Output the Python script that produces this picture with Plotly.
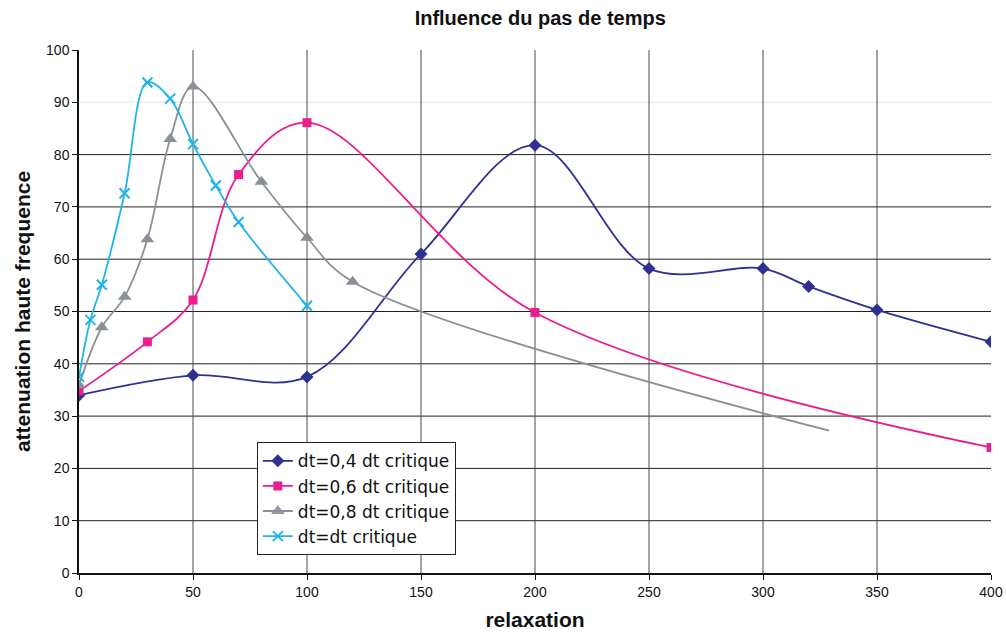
import plotly.graph_objects as go

# Series data: relaxation vs high-frequency attenuation
x_04 = [0, 50, 100, 150, 200, 250, 300, 320, 350, 400]
y_04 = [34.0, 37.8, 37.5, 61.0, 81.8, 58.2, 58.2, 54.8, 50.3, 44.2]

x_06 = [0, 30, 50, 70, 100, 200, 400]
y_06 = [34.8, 44.2, 52.2, 76.2, 86.1, 49.8, 24.0]

x_08 = [0, 10, 20, 30, 40, 50, 80, 100, 120, 329]
y_08 = [35.9, 47.0, 52.8, 63.8, 83.0, 93.0, 74.8, 64.1, 55.7, 27.2]
opacity_08 = [1, 1, 1, 1, 1, 1, 1, 1, 1, 0]  # last point carries no marker

x_10 = [0, 5, 10, 20, 30, 40, 50, 60, 70, 100]
y_10 = [37.5, 48.4, 55.1, 72.6, 93.8, 90.7, 82.0, 74.1, 67.1, 51.1]

names = ["dt=0,4 dt critique", "dt=0,6 dt critique", "dt=0,8 dt critique", "dt=dt critique"]

x_ticks = list(range(0, 401, 50))
y_ticks = list(range(0, 101, 10))

FONT = "Liberation Sans, Arial, sans-serif"
SMOOTH = 1.0

fig = go.Figure()

fig.add_trace(go.Scatter(
    x=x_04, y=y_04, name=names[0], mode="lines+markers",
    line=dict(color="#2e3192", width=1.8, shape="spline", smoothing=SMOOTH),
    marker=dict(symbol="diamond", size=10, color="#2e3192"),
))
fig.add_trace(go.Scatter(
    x=x_06, y=y_06, name=names[1], mode="lines+markers",
    line=dict(color="#ec1c8c", width=1.8, shape="spline", smoothing=SMOOTH),
    marker=dict(symbol="square", size=9, color="#ec1c8c"),
))
fig.add_trace(go.Scatter(
    x=x_08, y=y_08, name=names[2], mode="lines+markers",
    line=dict(color="#8a9098", width=1.8, shape="spline", smoothing=SMOOTH),
    marker=dict(symbol="triangle-up", size=12, color="#8a9098", opacity=opacity_08),
))
fig.add_trace(go.Scatter(
    x=x_10, y=y_10, name=names[3], mode="lines+markers",
    line=dict(color="#1eb4e8", width=1.8, shape="spline", smoothing=SMOOTH),
    marker=dict(symbol="x-thin", size=10, color="#1eb4e8",
                line=dict(color="#1eb4e8", width=2)),
))

# Horizontal grid lines (the 90 line is drawn faint)
shapes = []
for v in y_ticks[1:-1]:
    shapes.append(dict(
        type="line", xref="paper", yref="y", x0=0, x1=1, y0=v, y1=v,
        line=dict(color="#e8e8e8" if v == 90 else "#222222", width=1),
        layer="below",
    ))
# Vertical grid lines
for v in x_ticks[1:-1]:
    shapes.append(dict(
        type="line", xref="x", yref="y", x0=v, x1=v, y0=0, y1=100,
        line=dict(color="#4a4a4a", width=1), layer="below",
    ))

fig.update_layout(
    width=1006, height=639,
    margin=dict(l=79, r=15, t=50, b=66, autoexpand=False),
    paper_bgcolor="white", plot_bgcolor="white",
    font=dict(family=FONT, color="#111111"),
    title=dict(text="<b>Influence du pas de temps</b>", x=0.537, xanchor="center",
               y=0.972, yanchor="middle", font=dict(size=20, family=FONT)),
    shapes=shapes,
    showlegend=True,
    legend=dict(
        x=0.195, y=0.25, xanchor="left", yanchor="top",
        bgcolor="white", bordercolor="#222222", borderwidth=1,
        font=dict(size=17, family="DejaVu Sans, sans-serif"), tracegroupgap=0,
        itemwidth=30,
    ),
)

fig.update_xaxes(
    range=[0, 400], tickvals=x_ticks, showgrid=False, zeroline=False,
    showline=True, linecolor="#111111", linewidth=1.5,
    ticks="outside", ticklen=5, tickcolor="#111111", automargin=False,
    tickfont=dict(size=14, family=FONT),
    title=dict(text="<b>relaxation</b>", font=dict(size=21, family=FONT), standoff=14),
)
fig.update_yaxes(
    range=[0, 100], tickvals=y_ticks, showgrid=False, zeroline=False,
    showline=True, linecolor="#111111", linewidth=1.5,
    ticks="outside", ticklen=5, tickcolor="#111111", automargin=False,
    tickfont=dict(size=14, family=FONT),
    title=dict(text="<b>attenuation haute frequence</b>", font=dict(size=21, family=FONT), standoff=10),
)

fig.write_html("out.html")
